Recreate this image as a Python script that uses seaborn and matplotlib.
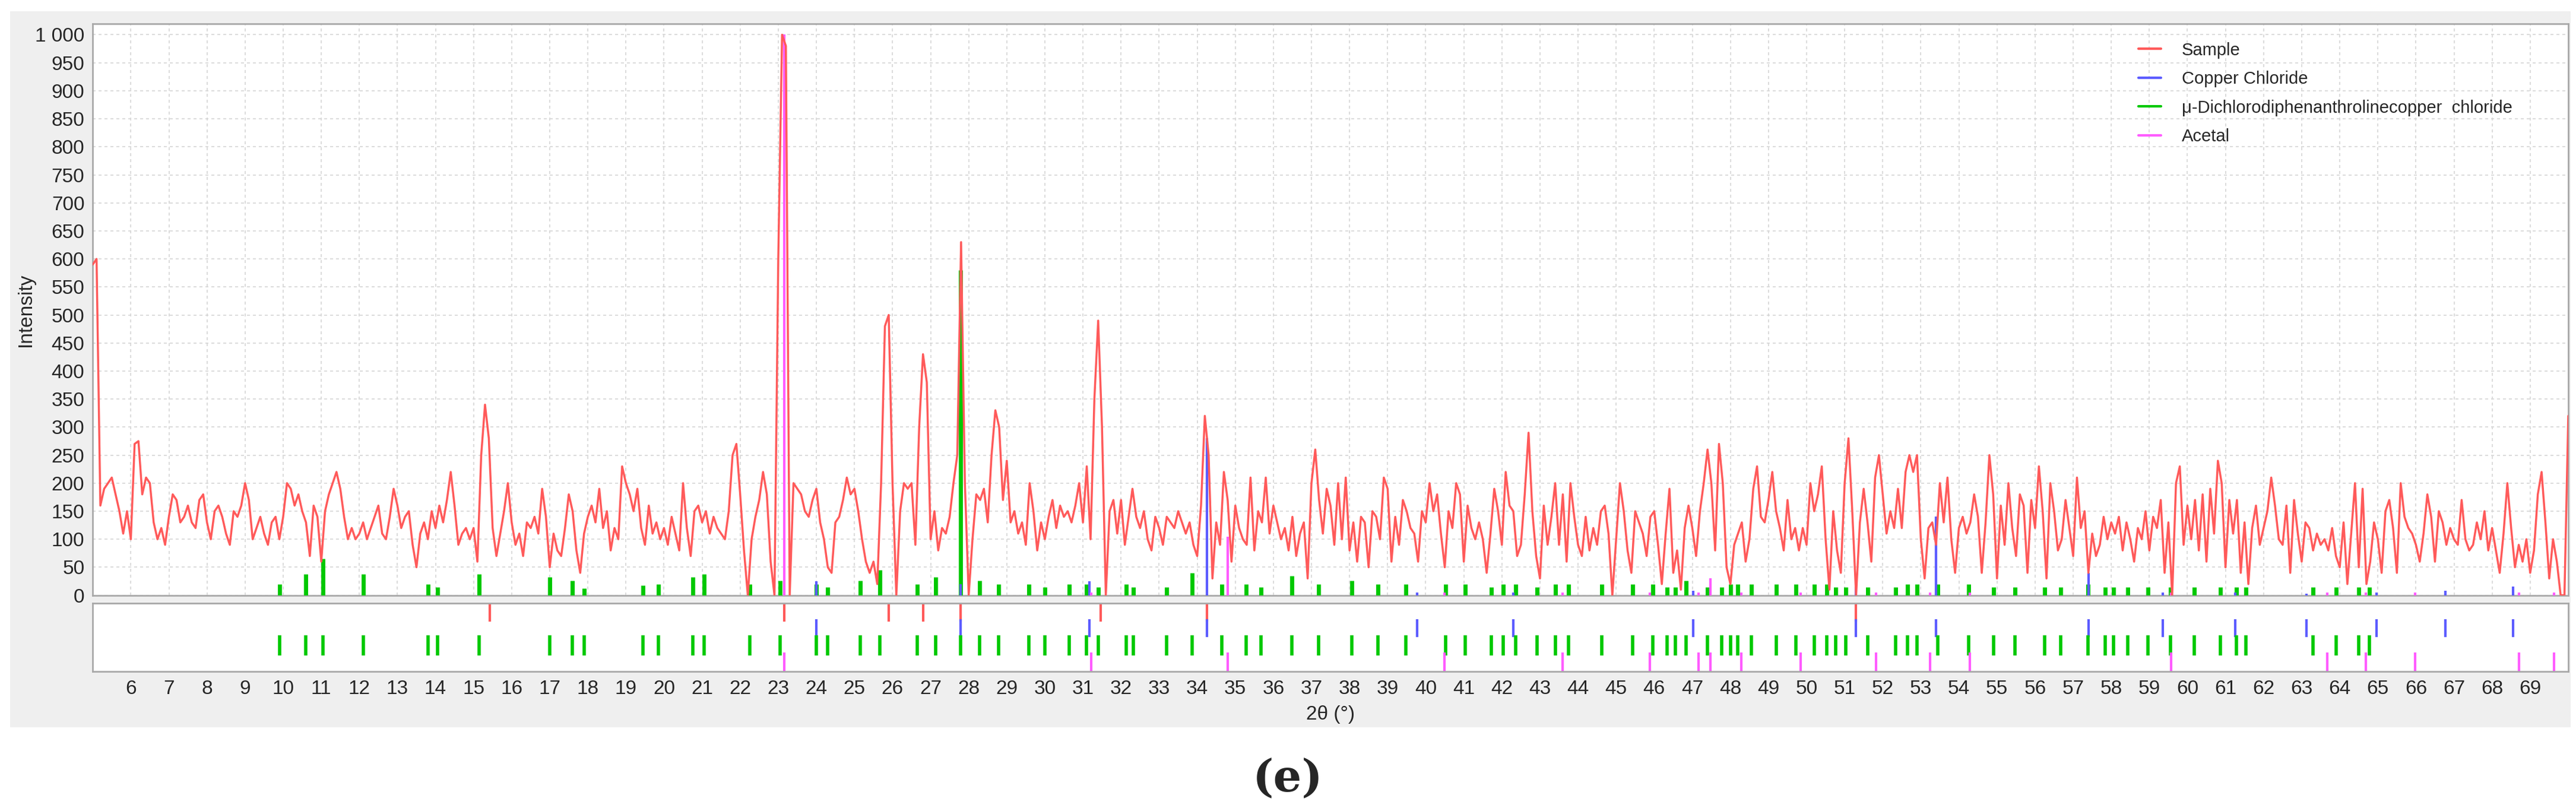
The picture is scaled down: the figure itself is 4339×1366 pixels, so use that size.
import matplotlib
matplotlib.use("Agg")
import matplotlib.pyplot as plt
import numpy as np
import pandas as pd
import seaborn as sns
from matplotlib.patches import Rectangle

# sample intensity, 0.1 deg steps, one row per degree (5.0 .. 69.9), then 70.0
sample_by_degree = [
    [590, 600, 160, 190, 200, 210, 180, 150, 110, 150],
    [100, 270, 275, 180, 210, 200, 130, 100, 120, 90],
    [140, 180, 170, 130, 140, 160, 130, 120, 170, 180],
    [130, 100, 150, 160, 140, 110, 90, 150, 140, 160],
    [200, 170, 100, 120, 140, 110, 90, 130, 140, 100],
    [140, 200, 190, 160, 180, 150, 130, 70, 160, 140],
    [60, 150, 180, 200, 220, 190, 140, 100, 120, 100],
    [110, 130, 100, 120, 140, 160, 110, 100, 140, 190],
    [160, 120, 140, 150, 90, 50, 110, 130, 100, 150],
    [120, 160, 130, 170, 220, 160, 90, 110, 120, 100],
    [120, 60, 250, 340, 280, 120, 70, 110, 150, 200],
    [130, 90, 110, 70, 130, 120, 140, 110, 190, 140],
    [50, 110, 80, 70, 120, 180, 150, 80, 40, 110],
    [140, 160, 130, 190, 120, 150, 80, 120, 100, 230],
    [200, 180, 150, 190, 120, 90, 160, 110, 130, 100],
    [120, 90, 140, 110, 80, 200, 120, 70, 150, 160],
    [130, 150, 110, 140, 120, 110, 100, 150, 250, 270],
    [180, 80, 0, 100, 140, 170, 220, 180, 60, 0],
    [600, 1000, 980, 0, 200, 190, 180, 150, 140, 170],
    [190, 130, 100, 50, 40, 130, 140, 170, 210, 180],
    [190, 150, 100, 60, 40, 60, 20, 200, 480, 500],
    [200, 0, 150, 200, 190, 200, 90, 300, 430, 380],
    [100, 150, 80, 120, 110, 140, 200, 250, 630, 200],
    [0, 100, 180, 170, 190, 130, 250, 330, 300, 170],
    [240, 130, 150, 110, 130, 90, 200, 150, 80, 130],
    [100, 140, 170, 120, 160, 140, 150, 130, 160, 200],
    [130, 230, 100, 350, 490, 300, 0, 150, 170, 110],
    [170, 90, 140, 190, 140, 120, 150, 100, 80, 140],
    [120, 90, 140, 130, 120, 150, 130, 110, 130, 90],
    [70, 160, 320, 250, 30, 130, 90, 220, 170, 60],
    [160, 120, 100, 90, 210, 80, 150, 130, 210, 110],
    [160, 130, 100, 120, 80, 140, 70, 110, 130, 30],
    [200, 260, 170, 110, 190, 160, 90, 200, 100, 210],
    [80, 130, 60, 140, 130, 50, 150, 140, 100, 210],
    [190, 60, 140, 90, 170, 150, 120, 110, 60, 150],
    [130, 200, 150, 180, 110, 50, 150, 120, 200, 180],
    [60, 160, 120, 100, 130, 100, 40, 110, 190, 150],
    [90, 220, 160, 150, 70, 90, 180, 290, 150, 70],
    [30, 160, 90, 140, 200, 90, 180, 60, 200, 140],
    [90, 70, 140, 80, 120, 90, 150, 160, 110, 0],
    [100, 200, 150, 80, 40, 150, 130, 110, 70, 140],
    [150, 90, 20, 110, 190, 40, 80, 10, 120, 160],
    [120, 70, 150, 200, 260, 200, 80, 270, 200, 50],
    [20, 90, 110, 130, 60, 100, 190, 230, 140, 130],
    [170, 220, 150, 120, 80, 170, 100, 120, 80, 120],
    [90, 200, 150, 180, 230, 100, 10, 150, 80, 40],
    [200, 280, 150, 0, 130, 190, 130, 60, 210, 250],
    [180, 110, 150, 120, 190, 120, 220, 250, 220, 250],
    [100, 30, 120, 130, 90, 200, 130, 210, 100, 40],
    [120, 140, 110, 130, 180, 140, 40, 130, 250, 180],
    [30, 160, 90, 200, 120, 70, 180, 160, 40, 170],
    [120, 230, 150, 30, 200, 150, 80, 100, 170, 120],
    [70, 210, 120, 150, 40, 110, 70, 90, 140, 100],
    [130, 110, 140, 80, 130, 100, 60, 120, 100, 150],
    [80, 140, 120, 170, 40, 130, 0, 200, 230, 90],
    [160, 100, 170, 80, 180, 60, 190, 110, 240, 200],
    [50, 170, 110, 170, 40, 130, 20, 120, 160, 90],
    [120, 150, 210, 160, 100, 90, 160, 40, 170, 110],
    [60, 130, 120, 80, 110, 90, 100, 80, 120, 70],
    [50, 130, 20, 110, 200, 50, 190, 20, 60, 130],
    [100, 40, 150, 170, 120, 40, 200, 140, 120, 110],
    [90, 60, 110, 180, 140, 60, 150, 130, 90, 120],
    [100, 90, 170, 100, 80, 90, 130, 100, 150, 80],
    [120, 80, 40, 110, 200, 120, 50, 90, 60, 100],
    [40, 80, 180, 220, 130, 30, 100, 60, 0, 0],
]
sample_last = [320]

# reference patterns: peak positions (deg) and intensities in the main panel
green_pos = [9.9, 10.6, 11.05, 12.1, 13.8, 14.05, 15.15, 17.0, 17.6, 17.9, 19.45, 19.85,
             20.75, 21.05, 22.25, 23.05, 24.0, 24.3, 25.15, 25.67, 26.65, 27.13, 27.78,
             28.28, 28.78, 29.58, 30.0, 30.64, 31.09, 31.41, 32.13, 32.33, 33.19, 33.86,
             34.64, 35.29, 35.67, 36.48, 37.19, 38.06, 38.74, 39.48, 40.52, 41.03, 41.72,
             42.04, 42.36, 42.93, 43.41, 43.75, 44.62, 45.43, 45.96, 46.33, 46.55, 46.83,
             47.39, 47.77, 48.0, 48.19, 48.55, 49.21, 49.72, 50.21, 50.53, 50.76, 51.03,
             51.6, 52.34, 52.65, 52.9, 53.45, 54.25, 54.91, 55.47, 56.25, 56.67, 57.39,
             57.84, 58.06, 58.43, 58.97, 59.55, 60.18, 60.87, 61.28, 61.54, 63.3, 63.9,
             64.49, 64.78]
green_int = [20, 38, 65, 38, 20, 14, 38, 32, 26, 12, 18, 20,
             32, 38, 20, 26, 20, 14, 26, 45, 20, 32, 580,
             26, 20, 20, 14, 20, 20, 14, 20, 14, 14, 40,
             20, 20, 14, 35, 20, 26, 20, 20, 20, 20, 14,
             20, 20, 14, 20, 20, 20, 20, 20, 14, 14, 26,
             14, 14, 20, 20, 20, 20, 20, 20, 20, 14, 14,
             14, 14, 20, 20, 20, 20, 14, 14, 14, 14, 20,
             14, 14, 14, 14, 14, 14, 14, 14, 14, 14, 14,
             14, 14]
blue_pos = [24.0, 27.78, 31.17, 34.26, 39.77, 42.3, 47.03, 51.3, 53.4, 57.4, 59.36,
            61.26, 63.12, 64.97, 66.77, 68.55]
blue_int = [25, 20, 25, 280, 5, 5, 8, 15, 140, 40, 5, 5, 3, 5, 8, 15]
magenta_pos = [23.15, 31.22, 34.8, 40.49, 43.59, 45.88, 47.16, 47.48, 48.29, 49.85,
               51.82, 53.25, 54.29, 59.57, 63.67, 64.68, 65.98, 68.71, 69.63]
magenta_int = [1000, 5, 105, 5, 5, 5, 5, 30, 5, 5, 5, 5, 5, 5, 5, 5, 5, 5, 5]
sample_peaks = [15.42, 23.15, 25.9, 26.8, 27.78, 31.46, 34.25, 51.3]

c_sample, c_blue, c_green, c_mag = "#ff5a5a", "#5c5cff", "#00c800", "#ff5cff"

intensity = np.concatenate([np.ravel(sample_by_degree), sample_last])
theta = np.round(5.0 + 0.1 * np.arange(len(intensity)), 2)
df = pd.DataFrame({"theta": theta, "intensity": intensity})

sns.set_theme(style="white")
plt.rcParams["font.family"] = ["Liberation Sans", "DejaVu Sans"]
fig = plt.figure(figsize=(43.39, 13.66), dpi=100, facecolor="white")
fig.patches.append(Rectangle((0.004, 0.103), 0.994, 0.883, transform=fig.transFigure,
                             facecolor="#efefef", edgecolor="none", zorder=-10))

ax = fig.add_axes([0.036, 0.266, 0.961, 0.705])
ax2 = fig.add_axes([0.036, 0.172, 0.961, 0.084], sharex=ax)
for a in (ax, ax2):
    a.set_facecolor("white")
    for s in a.spines.values():
        s.set_color("#a8a8a8")
        s.set_linewidth(2)

ax.vlines(green_pos, 0, green_int, color=c_green, lw=5, zorder=3)
ax.vlines(blue_pos, 0, blue_int, color=c_blue, lw=3, zorder=3)
ax.vlines(magenta_pos, 0, magenta_int, color=c_mag, lw=3, zorder=3)
sns.lineplot(data=df, x="theta", y="intensity", ax=ax, color=c_sample, lw=2.5, zorder=4)

ax.set_xlim(5, 70)
ax.set_ylim(0, 1020)
yt = np.arange(0, 1001, 50)
ax.set_yticks(yt)
ax.set_yticklabels([f"{v:,}".replace(",", " ") for v in yt])
ax.set_xticks(np.arange(6, 70))
ax.grid(True, color="#d6d6d6", ls=(0, (3, 3)), lw=1.2)
ax.tick_params(axis="y", length=0, labelsize=24, pad=10)
ax.tick_params(axis="x", length=0, labelbottom=False)
ax.set_xlabel("")
ax.set_ylabel("")

tr = ax2.get_xaxis_transform()
ax2.vlines(sample_peaks, 0.73, 1.0, color=c_sample, lw=3, transform=tr)
ax2.vlines(blue_pos, 0.51, 0.77, color=c_blue, lw=3, transform=tr)
ax2.vlines(green_pos, 0.24, 0.53, color=c_green, lw=4, transform=tr)
ax2.vlines(magenta_pos, 0.0, 0.28, color=c_mag, lw=3, transform=tr)
ax2.set_yticks([])
ax2.grid(False)
ax2.tick_params(axis="x", length=0, labelsize=24, pad=10)
ax2.set_xticks(np.arange(6, 70))
ax2.set_xticklabels([str(v) for v in range(6, 70)])

fig.text(0.5165, 0.119, "2θ (°)", ha="center", va="center", fontsize=24)
fig.text(0.010, 0.618, "Intensity", ha="center", va="center", rotation=90, fontsize=24)
fig.text(0.5, 0.04, "(e)", ha="center", va="center", fontsize=54, fontweight="bold",
         family="DejaVu Serif")

handles = [plt.Line2D([], [], color=c, lw=3) for c in (c_sample, c_blue, c_green, c_mag)]
labels = ["Sample", "Copper Chloride", "μ-Dichlorodiphenanthrolinecopper  chloride", "Acetal"]
ax.legend(handles, labels, loc="upper left", bbox_to_anchor=(0.82, 0.995), frameon=False,
          fontsize=21, handlelength=1.3, handletextpad=1.2, labelspacing=0.7)

fig.savefig("out.png", dpi=100, facecolor="white")
